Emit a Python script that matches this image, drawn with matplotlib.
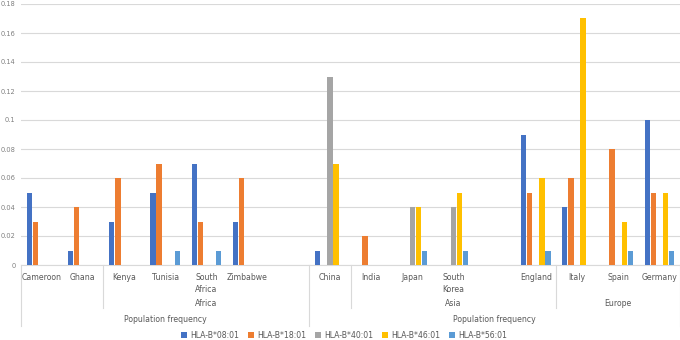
import numpy as np
import matplotlib.pyplot as plt

# Data
countries = ['Cameroon', 'Ghana', 'Kenya', 'Tunisia', 'South\nAfrica', 'Zimbabwe', '',
             'China', 'India', 'Japan', 'South\nKorea', '', 'England', 'Italy', 'Spain', 'Germany']
regions = [('', 0, 1), ('Africa', 2, 6), ('', 7, 7), ('Asia', 8, 12), ('Europe', 13, 15)]
top_groups = [('Population frequency', 0, 6), ('Population frequency', 7, 15)]

series = ['HLA-B*08:01', 'HLA-B*18:01', 'HLA-B*40:01', 'HLA-B*46:01', 'HLA-B*56:01']
b0801 = [0.05, 0.01, 0.03, 0.05, 0.07, 0.03, 0, 0.01, 0, 0, 0, 0, 0.09, 0.04, 0, 0.10]
b1801 = [0.03, 0.04, 0.06, 0.07, 0.03, 0.06, 0, 0, 0.02, 0, 0, 0, 0.05, 0.06, 0.08, 0.05]
b4001 = [0, 0, 0, 0, 0, 0, 0, 0.13, 0, 0.04, 0.04, 0, 0, 0, 0, 0]
b4601 = [0, 0, 0, 0, 0, 0, 0, 0.07, 0, 0.04, 0.05, 0, 0.06, 0.17, 0.03, 0.05]
b5601 = [0, 0, 0, 0.01, 0.01, 0, 0, 0, 0, 0.01, 0.01, 0, 0.01, 0, 0.01, 0.01]
colors = ['#4472C4', '#ED7D31', '#A5A5A5', '#FFC000', '#5B9BD5']

plt.rcParams['font.family'] = ['DejaVu Sans']
txt = '#595959'
line_c = '#D9D9D9'
fs = 5.6

fig = plt.figure(figsize=(6.8, 3.4), dpi=100)
ax = fig.add_axes([21 / 680, 75 / 340, 659 / 680, 261 / 340])

x = np.arange(len(countries))
step, width = 0.148, 0.128
for i, (name, vals) in enumerate(zip(series, [b0801, b1801, b4001, b4601, b5601])):
    ax.bar(x + (i - 2) * step, vals, width, color=colors[i], label=name, zorder=3)

ax.set_xlim(-0.5, len(countries) - 0.5)
ax.set_ylim(0, 0.18)
ax.set_yticks(np.arange(0, 0.181, 0.02))
ax.set_yticklabels(['0', '0.02', '0.04', '0.06', '0.08', '0.1', '0.12', '0.14', '0.16', '0.18'])
ax.grid(axis='y', color=line_c, linewidth=0.8, zorder=0)
for s in ['top', 'right', 'left']:
    ax.spines[s].set_visible(False)
ax.spines['bottom'].set_color(line_c)
ax.tick_params(axis='y', length=0, labelsize=4.8, labelcolor='#7F7F7F', pad=4)
ax.set_xticks(x)
ax.set_xticklabels(countries, fontsize=fs, color=txt, va='top', linespacing=1.35)
ax.tick_params(axis='x', length=0, pad=6)

# multi-level category axis
tr = ax.get_xaxis_transform()
def yf(py):
    return (265 - py) / 261

for name, a, b in regions:
    if name:
        ax.text((a + b) / 2, yf(303), name, transform=tr, ha='center', va='center',
                fontsize=fs, color=txt)
for name, a, b in top_groups:
    ax.text((a + b) / 2, yf(319), name, transform=tr, ha='center', va='center',
            fontsize=fs, color=txt)

for bx in [1.5, 7.5, 12.5]:
    ax.plot([bx, bx], [0, yf(308)], transform=tr, color=line_c, lw=0.8, clip_on=False)
for bx in [-0.5, 6.5, 15.5]:
    ax.plot([bx, bx], [0, yf(326)], transform=tr, color=line_c, lw=0.8, clip_on=False)

fig.legend(loc='center', bbox_to_anchor=(0.506, 1 - 335 / 340), ncol=5, frameon=False,
           fontsize=fs, handlelength=0.7, handleheight=0.7, handletextpad=0.4,
           columnspacing=1.2, labelcolor=txt, borderpad=0)

plt.savefig('out.png', dpi=100)
